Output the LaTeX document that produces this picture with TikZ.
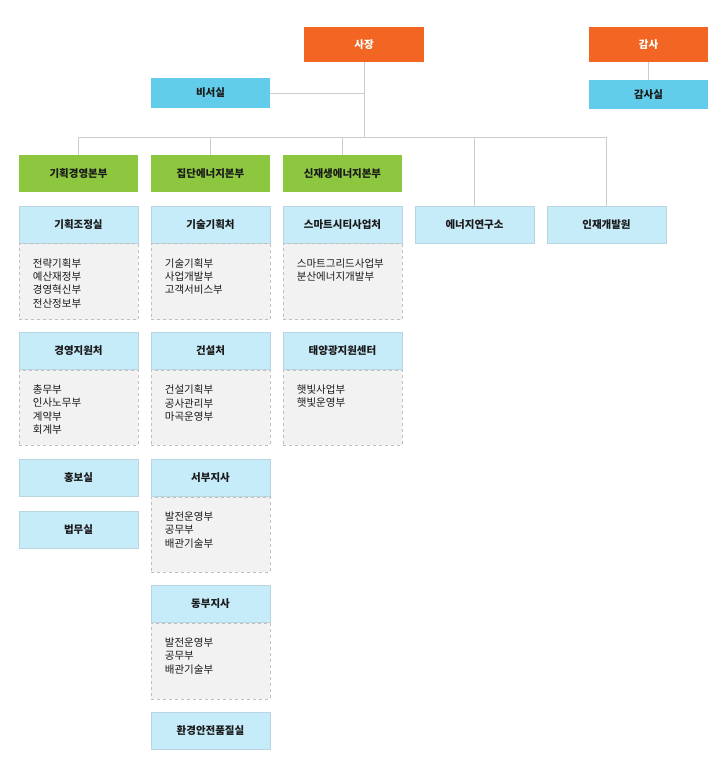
\documentclass[tikz,border=0pt]{standalone}
\usepackage{fontspec}
\setmainfont{Noto Sans CJK KR}
\usepackage{xcolor}
\usepackage{tikz}
\usetikzlibrary{positioning, calc}
\definecolor{myorange}{HTML}{F26522}
\definecolor{mycyan}{HTML}{62CDEA}
\definecolor{mygreen}{HTML}{8DC63F}
\definecolor{mylight}{HTML}{C6EBF9}
\definecolor{mygray}{HTML}{F2F2F2}
\definecolor{myline}{HTML}{CCCCCC}
\definecolor{mytext}{HTML}{1A1A1A}
\tikzstyle{box} = [rectangle, minimum width=119pt, inner sep=0pt, font=\fontsize{10.5}{13}\selectfont\bfseries, text=mytext]
\tikzstyle{chief} = [box, minimum height=35pt, fill=myorange, text=white]
\tikzstyle{staff} = [box, minimum height=30pt, fill=mycyan]
\tikzstyle{hq} = [box, minimum height=37pt, fill=mygreen]
\tikzstyle{dept} = [box, minimum height=37pt, fill=mylight, draw=mylight!80!gray, line width=0.5pt]
\tikzstyle{sub} = [box, minimum height=76pt, fill=mygray, draw=gray!50, dashed, line width=0.6pt, anchor=north]
\tikzstyle{items} = [anchor=north west, align=left, inner sep=0pt, font=\fontsize{10.5}{13.3}\selectfont, text=mytext]
\tikzstyle{link} = [draw=myline, line width=1pt]

\begin{document}
\begin{tikzpicture}[x=1pt, y=-1pt]
    \useasboundingbox (0,0) rectangle (718,769);
    \fill[white] (0,0) rectangle (718,769);

    \node[chief, minimum width=120pt] (ceo) at (364,44.5) {사장};
    \node[chief] (audit) at (648.5,44.5) {감사};
    \node[staff, minimum height=29pt] (auditoff) at (648.5,94.5) {감사실};
    \node[staff] (sec) at (210.5,93) {비서실};

    \node[hq] (hq1) at (78.5,173.5) {기획경영본부};
    \node[hq] (hq2) at (210.5,173.5) {집단에너지본부};
    \node[hq] (hq3) at (342.5,173.5) {신재생에너지본부};
    \node[dept] (lab) at (474.5,224.5) {에너지연구소};
    \node[dept] (hrd) at (606.5,224.5) {인재개발원};

    \coordinate (bus) at (364,137);
    \draw[link] (ceo.south) -- (bus);
    \draw[link] (sec.east) -- (sec.east -| ceo.south);
    \draw[link] (audit.south) -- (auditoff.north);
    \draw[link] (bus) -| (hq1.north);
    \draw[link] (bus) -| (hq2.north);
    \draw[link] (bus) -| (hq3.north);
    \draw[link] (bus) -| (lab.north);
    \draw[link] (bus) -| (hrd.north);

    \node[dept] (d11) at (78.5,224.5) {기획조정실};
    \node[sub] (s11) at (d11.south) {};
    \node[items] (t11) at ($(s11.north west)+(14,15)$) {전략기획부\\예산재정부\\경영혁신부\\전산정보부};
    \node[dept] (d12) at (78.5,351) {경영지원처};
    \node[sub, minimum height=75pt] (s12) at (d12.south) {};
    \node[items] (t12) at ($(s12.north west)+(14,15)$) {총무부\\인사노무부\\계약부\\회계부};
    \node[dept] (d13) at (78.5,478) {홍보실};
    \node[dept] (d14) at (78.5,530) {법무실};

    \node[dept] (d21) at (210.5,224.5) {기술기획처};
    \node[sub] (s21) at (d21.south) {};
    \node[items] (t21) at ($(s21.north west)+(14,15)$) {기술기획부\\사업개발부\\고객서비스부};
    \node[dept] (d22) at (210.5,351) {건설처};
    \node[sub, minimum height=75pt] (s22) at (d22.south) {};
    \node[items] (t22) at ($(s22.north west)+(14,15)$) {건설기획부\\공사관리부\\마곡운영부};
    \node[dept] (d23) at (210.5,478) {서부지사};
    \node[sub, minimum height=75pt] (s23) at (d23.south) {};
    \node[items] (t23) at ($(s23.north west)+(14,15)$) {발전운영부\\공무부\\배관기술부};
    \node[dept] (d24) at (210.5,604) {동부지사};
    \node[sub] (s24) at (d24.south) {};
    \node[items] (t24) at ($(s24.north west)+(14,15)$) {발전운영부\\공무부\\배관기술부};
    \node[dept] (d25) at (210.5,731) {환경안전품질실};

    \node[dept] (d31) at (342.5,224.5) {스마트시티사업처};
    \node[sub] (s31) at (d31.south) {};
    \node[items] (t31) at ($(s31.north west)+(14,15)$) {스마트그리드사업부\\분산에너지개발부};
    \node[dept] (d32) at (342.5,351) {태양광지원센터};
    \node[sub, minimum height=75pt] (s32) at (d32.south) {};
    \node[items] (t32) at ($(s32.north west)+(14,15)$) {햇빛사업부\\햇빛운영부};
\end{tikzpicture}
\end{document}
